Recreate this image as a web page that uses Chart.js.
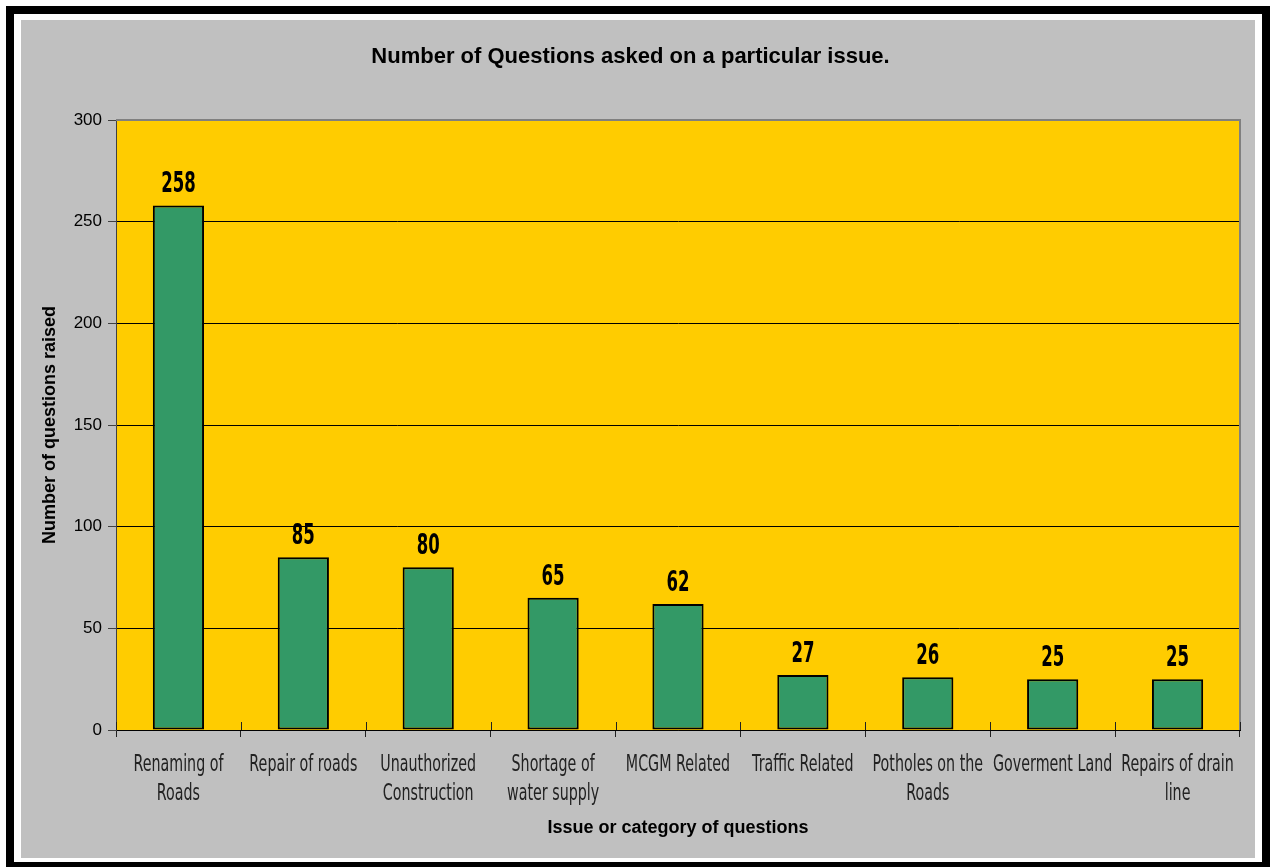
<!DOCTYPE html>
<html>
<head>
<meta charset="utf-8">
<title>Number of Questions asked on a particular issue.</title>
<script src="https://cdn.jsdelivr.net/npm/chart.js@4/dist/chart.umd.min.js"></script>
<style>
  html, body { margin: 0; padding: 0; background: #fff; }
  .frame {
    position: absolute;
    left: 6px;
    top: 6px;
    border: 8px solid #000;
    background: #fff;
    padding: 6px 7px 4px 7px;
  }
  #chart { display: block; background: #c0c0c0; }
</style>
</head>
<body>
<div class="frame">
  <canvas id="chart" width="1234" height="838"></canvas>
</div>
<script>
// ===== Dados =====
const categories = [
  ['Renaming of', 'Roads'],
  ['Repair of roads'],
  ['Unauthorized', 'Construction'],
  ['Shortage of', 'water supply'],
  ['MCGM Related'],
  ['Traffic Related'],
  ['Potholes on the', 'Roads'],
  ['Goverment Land'],
  ['Repairs of drain', 'line']
];
const questionCounts = [258, 85, 80, 65, 62, 27, 26, 25, 25];
const yTicks = [0, 50, 100, 150, 200, 250, 300];

const sansFont = '"DejaVu Sans", sans-serif';
const arialFont = '"Liberation Sans", Arial, sans-serif';

// texto estreito: desenha com escala horizontal reduzida
function drawNarrowText(ctx, text, x, y, squeeze) {
  ctx.save();
  ctx.translate(x, y);
  ctx.scale(squeeze, 1);
  ctx.fillText(text, 0, 0);
  ctx.restore();
}

// ===== Fundo amarelo e borda cinza da área do gráfico =====
const plotArea = {
  id: 'plotArea',
  beforeDraw(chart) {
    const { ctx, chartArea: a } = chart;
    ctx.save();
    ctx.fillStyle = '#ffcc00';
    ctx.fillRect(a.left, a.top, a.right - a.left, a.bottom - a.top);
    ctx.restore();
  },
  beforeDatasetsDraw(chart) {
    const { ctx, chartArea: a } = chart;
    ctx.save();
    ctx.strokeStyle = '#808080';
    ctx.lineWidth = 2;
    ctx.beginPath();
    ctx.moveTo(a.left, a.top);
    ctx.lineTo(a.right, a.top);
    ctx.lineTo(a.right, a.bottom);
    ctx.stroke();

    // marcas do eixo x cruzando a linha de base (parte interna)
    const x = chart.scales.x;
    const n = chart.data.labels.length;
    const step = (a.right - a.left) / n;
    ctx.strokeStyle = '#202020';
    ctx.lineWidth = 1;
    ctx.beginPath();
    for (let i = 0; i <= n; i++) {
      const px = Math.round(x.getPixelForValue(0) - step / 2 + i * step) + 0.5;
      ctx.moveTo(px, a.bottom - 8);
      ctx.lineTo(px, a.bottom);
    }
    ctx.stroke();
    ctx.restore();
  }
};

// ===== Valores acima das barras e rótulos das categorias =====
const barValues = {
  id: 'barValues',
  afterDatasetsDraw(chart) {
    const { ctx } = chart;
    const meta = chart.getDatasetMeta(0);
    ctx.save();
    ctx.fillStyle = '#000';
    ctx.font = 'bold 29px ' + sansFont;
    ctx.textAlign = 'center';
    ctx.textBaseline = 'alphabetic';
    meta.data.forEach((bar, i) => {
      drawNarrowText(ctx, String(questionCounts[i]), bar.x, bar.y - 13, 0.57);
    });
    ctx.restore();
  },
  afterDraw(chart) {
    const { ctx, chartArea: a } = chart;
    const x = chart.scales.x;
    ctx.save();
    ctx.fillStyle = '#222';
    ctx.font = '23px ' + sansFont;
    ctx.textAlign = 'center';
    ctx.textBaseline = 'alphabetic';
    chart.data.labels.forEach((lines, i) => {
      const cx = x.getPixelForValue(i);
      lines.forEach((line, j) => {
        drawNarrowText(ctx, line, cx, a.bottom + 41 + j * 29, 0.62);
      });
    });
    ctx.restore();
  }
};

new Chart(document.getElementById('chart'), {
  type: 'bar',
  data: {
    labels: categories,
    datasets: [{
      data: questionCounts,
      backgroundColor: '#339966',
      borderColor: '#000',
      borderWidth: 2,
      borderSkipped: false,
      barPercentage: 0.41,
      categoryPercentage: 1
    }]
  },
  options: {
    responsive: false,
    animation: false,
    layout: { padding: { left: 0, right: 15, top: 0, bottom: 0 } },
    plugins: {
      legend: { display: false },
      tooltip: { enabled: false },
      title: {
        display: true,
        text: 'Number of Questions asked on a particular issue.',
        color: '#000',
        font: { family: arialFont, size: 22, weight: 'bold' },
        padding: { top: 24, bottom: 49.6 }
      }
    },
    scales: {
      x: {
        offset: true,
        afterFit(scale) { scale.height = 128; },
        grid: {
          offset: true,
          drawOnChartArea: false,
          drawTicks: true,
          tickLength: 7,
          tickColor: '#202020'
        },
        border: { color: '#000', width: 1 },
        ticks: { display: false },
        title: {
          display: true,
          text: 'Issue or category of questions',
          color: '#000',
          font: { family: arialFont, size: 18, weight: 'bold' },
          padding: { top: 0, bottom: 19 }
        }
      },
      y: {
        min: 0,
        max: 300,
        afterFit(scale) { scale.width = 95; },
        afterBuildTicks(scale) { scale.ticks = yTicks.map(v => ({ value: v })); },
        grid: {
          color: '#000',
          lineWidth: 1,
          drawTicks: true,
          tickLength: 8,
          tickColor: '#404040'
        },
        border: { color: '#404040', width: 1 },
        ticks: {
          color: '#000',
          padding: 6,
          font: { family: arialFont, size: 17 }
        },
        title: {
          display: true,
          text: 'Number of questions raised',
          color: '#000',
          font: { family: arialFont, size: 18, weight: 'bold' },
          padding: { top: 18, bottom: 0 }
        }
      }
    }
  },
  plugins: [plotArea, barValues]
});
</script>
</body>
</html>
